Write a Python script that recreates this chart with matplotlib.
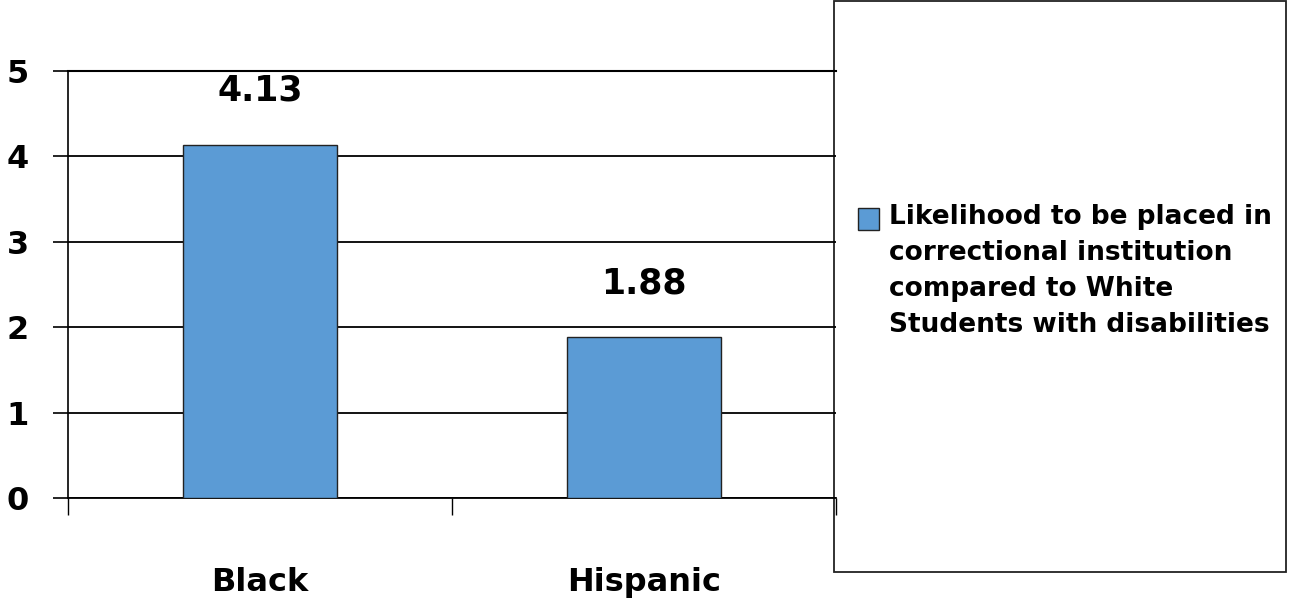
import matplotlib
matplotlib.use("Agg")
import matplotlib.pyplot as plt
from matplotlib.patches import Rectangle

groups = ["Black", "Hispanic"]
likelihood = [4.13, 1.88]
series_label = "Likelihood to be placed in\ncorrectional institution\ncompared to White\nStudents with disabilities"
y_ticks = [0, 1, 2, 3, 4, 5]

bar_color = "#5B9BD5"
plt.rcParams["font.family"] = "DejaVu Sans"
plt.rcParams["font.weight"] = "bold"

fig = plt.figure(figsize=(12.89, 6.10), dpi=100)
ax = fig.add_axes([0.0528, 0.1836, 0.5958, 0.7000])
ax.set_zorder(6)
ax.patch.set_alpha(0)

x = list(range(len(groups)))
bars = ax.bar(x, likelihood, width=0.4, color=bar_color, edgecolor="#222222",
              linewidth=1.0, zorder=3)

for xi, v in zip(x, likelihood):
    ax.annotate(f"{v:.2f}", (xi, v), xytext=(0, 32), textcoords="offset points",
                ha="center", va="baseline", fontsize=25, fontweight="bold")

ax.set_xlim(-0.5, len(groups) - 0.5)
ax.set_ylim(0, 5)
ax.set_yticks(y_ticks)
ax.set_yticklabels([str(t) for t in y_ticks], fontsize=23, fontweight="bold")
ax.tick_params(axis="y", direction="out", length=11, width=1.2, pad=17)
ax.grid(axis="y", color="black", linewidth=1.3, zorder=0)

# category boundaries as major ticks, names on minor ticks
ax.set_xticks([i - 0.5 for i in range(len(groups) + 1)])
ax.set_xticklabels([])
ax.tick_params(axis="x", which="major", direction="out", length=12, width=1.0)
ax.set_xticks(x, minor=True)
ax.set_xticklabels(groups, minor=True, fontsize=23, fontweight="bold")
ax.tick_params(axis="x", which="minor", length=0, pad=50)

ax.spines["right"].set_visible(False)
ax.spines["top"].set_linewidth(1.5)
ax.spines["left"].set_linewidth(1.2)
ax.spines["bottom"].set_linewidth(1.3)

# legend box
fig.patches.append(Rectangle((0.647, 0.0623), 0.351, 0.9357, transform=fig.transFigure,
                             facecolor="white", edgecolor="#222222", linewidth=1.3,
                             zorder=5))
fig.patches.append(Rectangle((858 / 1289, 1 - 230 / 610), 21 / 1289, 22 / 610,
                             transform=fig.transFigure, facecolor=bar_color,
                             edgecolor="#222222", linewidth=1.0, zorder=6))
fig.text(889 / 1289, 1 - 204 / 610, series_label, ha="left", va="top",
         fontsize=19, fontweight="bold", linespacing=1.5, zorder=6)

fig.savefig("out.png", dpi=100, facecolor="white")
